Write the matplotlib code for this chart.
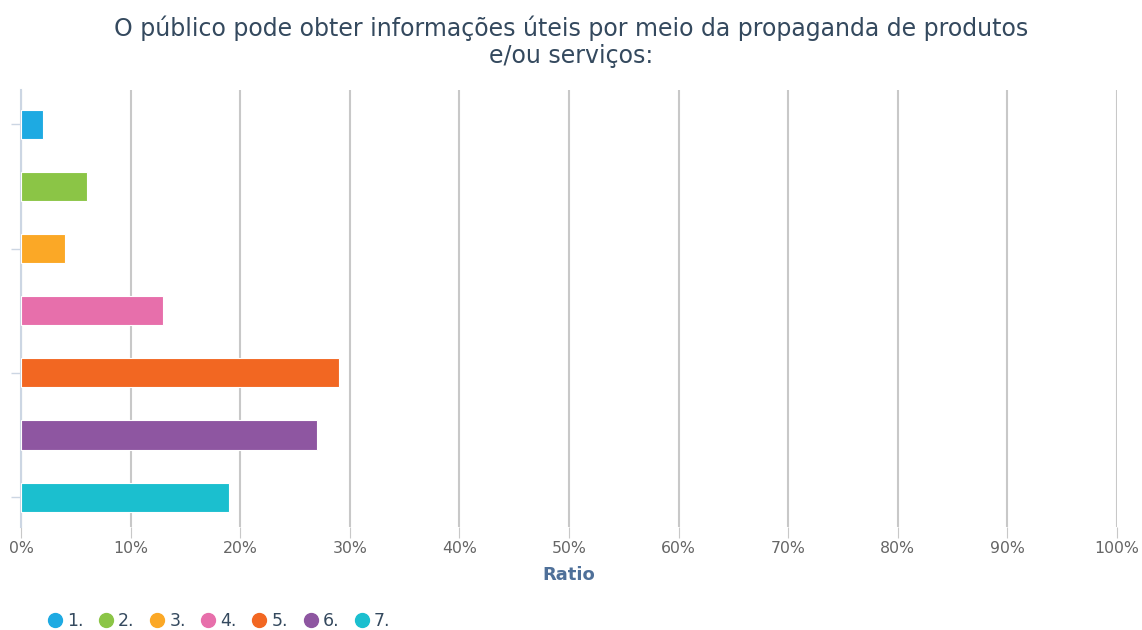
import matplotlib.pyplot as plt
from matplotlib.lines import Line2D
from matplotlib.ticker import FuncFormatter

plt.rcParams["font.family"] = ["DejaVu Sans"]

title = "O público pode obter informações úteis por meio da propaganda de produtos\ne/ou serviços:"
labels = ["1.", "2.", "3.", "4.", "5.", "6.", "7."]
values = [2, 6, 4, 13, 29, 27, 19]  # percent
colors = ["#1eaae2", "#8bc546", "#fba826", "#e76fab", "#f26722", "#8e56a1", "#1bbfcf"]
xticks = list(range(0, 101, 10))

fig = plt.figure(figsize=(11.42, 6.3), dpi=100)
ax = fig.add_axes([0.0184, 0.1635, 0.9596, 0.6935])

pos = list(range(len(values)))
ax.barh(pos, values, height=0.47, color=colors, edgecolor="white", linewidth=0.8, zorder=3)

ax.set_xlim(0, 100)
ax.set_ylim(6.48, -0.55)
ax.set_xticks(xticks)
ax.xaxis.set_major_formatter(FuncFormatter(lambda v, p: f"{int(v)}%"))
ax.tick_params(axis="x", length=8, color="#c8c8c8", labelcolor="#666666", labelsize=11.3, pad=2)
ax.set_yticks([0, 2, 4, 6])
ax.set_yticklabels([])
ax.tick_params(axis="y", length=7, color="#ccd6e3", width=1)
ax.grid(axis="x", color="#c8c8c8", linewidth=1.5, zorder=0)

for s in ["top", "right", "bottom"]:
    ax.spines[s].set_visible(False)
ax.spines["left"].set_color("#ccd6e3")
ax.spines["left"].set_linewidth(1.5)

ax.set_xlabel("Ratio", fontsize=13, fontweight="bold", color="#4f7099", labelpad=7)
fig.text(0.5, 0.976, title, ha="center", va="top", fontsize=17, color="#34495e", linespacing=1.2)

handles = [Line2D([], [], marker="o", linestyle="", markersize=10, color=c) for c in colors]
fig.legend(handles, labels, loc="lower left", bbox_to_anchor=(0.025, -0.025), ncol=7, frameon=False,
           fontsize=12.5, labelcolor="#34495e", handletextpad=0.1, columnspacing=0.7, handlelength=1.2)

fig.savefig("out.png", dpi=100)
